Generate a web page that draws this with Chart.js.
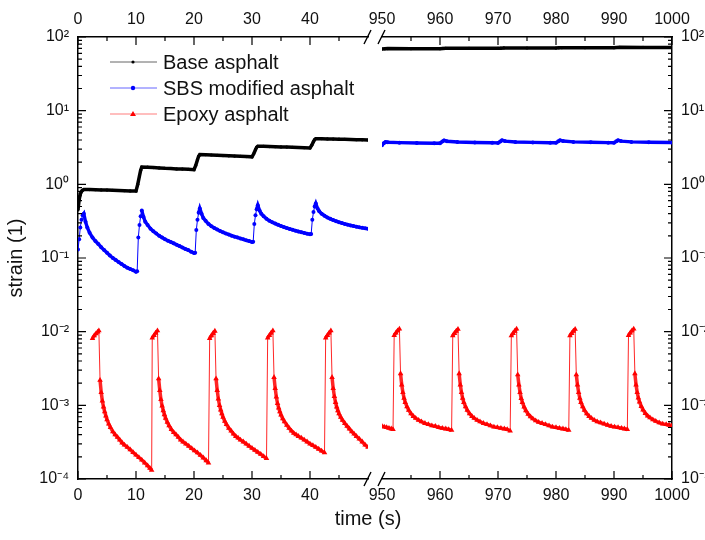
<!DOCTYPE html>
<html lang="en">
<head>
  <meta charset="UTF-8" />
  <title>Creep-recovery strain</title>
  <script src="https://cdn.jsdelivr.net/npm/chart.js"></script>
  <style>
    body {
      margin: 0;
      background: #fff;
    }
    .wrap {
      position: relative;
      width: 705px;
      height: 540px;
    }
    canvas {
      position: absolute;
      top: 0;
    }
    #leftChart { left: 0; }
    #rightChart { left: 350px; }
    #xTitle {
      position: absolute;
      left: 268px;
      top: 507px;
      width: 200px;
      text-align: center;
      font: 20px "Liberation Sans", Arial, sans-serif;
      color: #111;
    }
  </style>
</head>
<body>
  <div class="wrap">
    <canvas id="leftChart" width="375" height="540"></canvas>
    <canvas id="rightChart" width="355" height="540"></canvas>
    <div id="xTitle">time (s)</div>
  </div>

  <script>
    // tick labels
    const xTicksLeft = [0, 10, 20, 30, 40];
    const xTicksRight = [950, 960, 970, 980, 990, 1000];
    const yTickValues = [1e-4, 1e-3, 1e-2, 1e-1, 1, 10, 100];
    const yTickLabels = ['10\u207B\u2074', '10\u207B\u00B3', '10\u207B\u00B2', '10\u207B\u00B9', '10\u2070', '10\u00B9', '10\u00B2'];

    // Base asphalt, 0-50 s
    const baseTimeA = [0, 0.2, 0.4, 0.7, 1, 2, 3, 4, 5, 6, 7, 8, 9, 10, 10.3, 10.6, 10.8, 11, 12, 13, 14, 15, 16, 17, 18, 19, 20,
      20.3, 20.6, 20.8, 21, 22, 23, 24, 25, 26, 27, 28, 29, 30, 30.3, 30.6, 30.8, 31, 32, 33, 34, 35, 36, 37, 38, 39, 40,
      40.3, 40.6, 40.8, 41, 42, 43, 44, 45, 46, 47, 48, 49, 50];
    const baseStrainA = [0.45, 0.62, 0.74, 0.82, 0.85, 0.85, 0.845, 0.84, 0.835, 0.83, 0.825, 0.82, 0.815, 0.81, 1.0, 1.3, 1.55, 1.72,
      1.71, 1.69, 1.67, 1.65, 1.64, 1.62, 1.61, 1.6, 1.58, 1.8, 2.15, 2.4, 2.53, 2.52, 2.5, 2.48, 2.46, 2.44, 2.42, 2.4, 2.38, 2.36,
      2.6, 2.95, 3.18, 3.29, 3.28, 3.26, 3.24, 3.22, 3.2, 3.18, 3.16, 3.14, 3.12, 3.4, 3.8, 4.05, 4.17, 4.16, 4.14, 4.12, 4.1,
      4.08, 4.06, 4.04, 4.02, 4.0];
    // Base asphalt, 950-1000 s
    const baseTimeB = [950, 950.5, 951, 955, 960, 960.5, 961, 965, 970, 970.5, 971, 975, 980, 980.5, 981, 985, 990, 990.5, 991, 995, 1000];
    const baseStrainB = [68.5, 69.2, 69.6, 69.5, 69.4, 69.9, 70.3, 70.2, 70.1, 70.6, 71.0, 70.9, 70.8, 71.3, 71.7, 71.6, 71.5, 72.0, 72.4, 72.3, 72.2];

    // SBS modified asphalt, 0-50 s
    const sbsTimeA = [0, 0.2, 0.4, 0.6, 0.8, 1.0, 1.3, 1.6, 2.0, 2.5, 3, 3.5, 4, 4.5, 5, 5.5, 6, 6.5, 7, 7.5, 8, 8.5, 9, 9.5, 10,
      10.2, 10.4, 10.6, 10.8, 11.0, 11.3, 11.6, 12, 12.5, 13, 13.5, 14, 14.5, 15, 15.5, 16, 16.5, 17, 17.5, 18, 18.5, 19, 19.5, 20,
      20.2, 20.4, 20.6, 20.8, 21.0, 21.3, 21.6, 22, 22.5, 23, 23.5, 24, 24.5, 25, 25.5, 26, 26.5, 27, 27.5, 28, 28.5, 29, 29.5, 30,
      30.2, 30.4, 30.6, 30.8, 31.0, 31.3, 31.6, 32, 32.5, 33, 33.5, 34, 34.5, 35, 35.5, 36, 36.5, 37, 37.5, 38, 38.5, 39, 39.5, 40,
      40.2, 40.4, 40.6, 40.8, 41.0, 41.3, 41.6, 42, 42.5, 43, 43.5, 44, 44.5, 45, 45.5, 46, 46.5, 47, 47.5, 48, 48.5, 49, 49.5, 50];
    const sbsStrainA = [0.13, 0.18, 0.26, 0.33, 0.38, 0.40, 0.31, 0.26, 0.22, 0.19, 0.17, 0.155, 0.14, 0.128, 0.118, 0.108, 0.1, 0.094, 0.088, 0.083, 0.078, 0.074, 0.071, 0.068, 0.065,
      0.066, 0.19, 0.28, 0.37, 0.44, 0.36, 0.31, 0.28, 0.25, 0.23, 0.215, 0.2, 0.19, 0.18, 0.172, 0.165, 0.158, 0.151, 0.145, 0.139, 0.133, 0.128, 0.122, 0.117,
      0.118, 0.24, 0.33, 0.41, 0.47, 0.40, 0.35, 0.32, 0.29, 0.27, 0.255, 0.243, 0.232, 0.223, 0.215, 0.208, 0.201, 0.195, 0.19, 0.184, 0.179, 0.174, 0.17, 0.165,
      0.166, 0.29, 0.38, 0.46, 0.52, 0.44, 0.40, 0.37, 0.34, 0.32, 0.305, 0.293, 0.282, 0.272, 0.263, 0.255, 0.248, 0.241, 0.235, 0.229, 0.224, 0.219, 0.214, 0.21,
      0.211, 0.33, 0.42, 0.5, 0.55, 0.47, 0.43, 0.40, 0.375, 0.355, 0.34, 0.327, 0.316, 0.306, 0.298, 0.29, 0.283, 0.277, 0.271, 0.266, 0.261, 0.257, 0.253, 0.249];
    // SBS modified asphalt, 950-1000 s
    const sbsTimeB = [950, 950.3, 950.6, 951, 953, 956, 959, 960, 960.4, 960.7, 961.2, 963, 966, 969, 970, 970.4, 970.7, 971.2,
      973, 976, 979, 980, 980.4, 980.7, 981.2, 983, 986, 989, 990, 990.4, 990.7, 991.2, 993, 996, 1000];
    const sbsStrainB = [3.4, 3.6, 3.75, 3.72, 3.68, 3.64, 3.62, 3.62, 3.8, 3.95, 3.85, 3.75, 3.7, 3.66, 3.65, 3.82, 3.96, 3.86,
      3.76, 3.71, 3.67, 3.66, 3.83, 3.97, 3.87, 3.77, 3.72, 3.68, 3.67, 3.83, 3.96, 3.86, 3.77, 3.73, 3.7];

    // Epoxy asphalt, 0-50 s
    const epoxyTimeA = [2.5, 2.8, 3.1, 3.4, 3.6, 3.8, 4.0, 4.2, 4.4, 4.6, 4.8, 5.0, 5.3, 5.6, 6.0, 6.4, 6.8, 7.2, 7.6, 8.0, 8.5, 9.0, 9.5, 10.0, 10.5, 11.0, 11.5, 12.0, 12.4, 12.7,
      12.8, 13.1, 13.4, 13.7, 13.9, 14.1, 14.3, 14.5, 14.7, 14.9, 15.1, 15.4, 15.7, 16.1, 16.5, 16.9, 17.3, 17.7, 18.1, 18.6, 19.1, 19.6, 20.1, 20.6, 21.1, 21.6, 22.1, 22.5,
      22.7, 23.0, 23.3, 23.6, 23.8, 24.0, 24.2, 24.4, 24.6, 24.8, 25.0, 25.3, 25.6, 26.0, 26.4, 26.8, 27.2, 27.6, 28.0, 28.5, 29.0, 29.5, 30.0, 30.5, 31.0, 31.5, 32.0, 32.5,
      32.7, 33.0, 33.3, 33.6, 33.8, 34.0, 34.2, 34.4, 34.6, 34.8, 35.0, 35.3, 35.6, 36.0, 36.4, 36.8, 37.2, 37.6, 38.0, 38.5, 39.0, 39.5, 40.0, 40.5, 41.0, 41.5, 42.0, 42.5,
      42.7, 43.0, 43.3, 43.6, 43.8, 44.0, 44.2, 44.4, 44.6, 44.8, 45.0, 45.3, 45.6, 46.0, 46.4, 46.8, 47.2, 47.6, 48.0, 48.5, 49.0, 49.5, 50.0];
    const epoxyStrainA = [0.0081, 0.0088, 0.0094, 0.0099, 0.0103, 0.0022, 0.0015, 0.00115, 0.00095, 0.00082, 0.00072, 0.00064, 0.00056, 0.0005, 0.00044, 0.0004, 0.00037, 0.00034, 0.00031, 0.00029,
      0.00027, 0.00025, 0.00023, 0.000212, 0.000196, 0.000181, 0.000166, 0.000152, 0.00014, 0.000132,
      0.0082, 0.0089, 0.0096, 0.0103, 0.0023, 0.0016, 0.0012, 0.00098, 0.00085, 0.00075, 0.00067, 0.00059, 0.00053, 0.00047, 0.00043, 0.0004, 0.00037, 0.00034, 0.00032,
      0.0003, 0.00028, 0.00026, 0.000243, 0.000227, 0.000211, 0.000194, 0.000178, 0.000165,
      0.0081, 0.0088, 0.0095, 0.0102, 0.0023, 0.0016, 0.00122, 0.001, 0.00087, 0.00077, 0.00069, 0.00061, 0.00055, 0.00049, 0.00045, 0.00041, 0.00038, 0.00036, 0.00034,
      0.00032, 0.0003, 0.00028, 0.000262, 0.000246, 0.000231, 0.000217, 0.000203, 0.00019,
      0.0082, 0.0089, 0.0096, 0.0103, 0.0024, 0.0017, 0.0013, 0.00106, 0.00092, 0.00082, 0.00074, 0.00066, 0.0006, 0.00054, 0.00049, 0.00045, 0.00042, 0.0004, 0.00038,
      0.00036, 0.00034, 0.00032, 0.0003, 0.000285, 0.00027, 0.000255, 0.00024, 0.000228,
      0.0082, 0.0089, 0.0096, 0.0103, 0.0024, 0.0017, 0.00132, 0.0011, 0.00095, 0.00085, 0.00077, 0.00069, 0.00063, 0.00057, 0.00052, 0.00048, 0.00044, 0.00041, 0.00038,
      0.00035, 0.00032, 0.00029, 0.00027];
    // Epoxy asphalt, 950-1000 s
    const epoxyTimeB = [950, 950.4, 950.8, 951.2, 951.6, 951.9,
      952.1, 952.4, 952.7, 953.0, 953.2, 953.4, 953.6, 953.8, 954.0, 954.3, 954.6, 955.0, 955.4, 955.8, 956.3, 956.8, 957.4, 958.0, 958.6, 959.2, 959.8, 960.4, 961.0, 961.5, 962.0,
      962.2, 962.5, 962.8, 963.1, 963.3, 963.5, 963.7, 963.9, 964.1, 964.4, 964.7, 965.1, 965.5, 965.9, 966.4, 966.9, 967.5, 968.1, 968.7, 969.3, 969.9, 970.5, 971.1, 971.6, 972.1,
      972.3, 972.6, 972.9, 973.2, 973.4, 973.6, 973.8, 974.0, 974.2, 974.5, 974.8, 975.2, 975.6, 976.0, 976.5, 977.0, 977.6, 978.2, 978.8, 979.4, 980.0, 980.6, 981.2, 981.7, 982.2,
      982.4, 982.7, 983.0, 983.3, 983.5, 983.7, 983.9, 984.1, 984.3, 984.6, 984.9, 985.3, 985.7, 986.1, 986.6, 987.1, 987.7, 988.3, 988.9, 989.5, 990.1, 990.7, 991.3, 991.8, 992.3,
      992.5, 992.8, 993.1, 993.4, 993.6, 993.8, 994.0, 994.2, 994.4, 994.7, 995.0, 995.4, 995.8, 996.2, 996.7, 997.2, 997.8, 998.4, 999.0, 999.5, 1000];
    const epoxyStrainB = [0.00052, 0.00051, 0.0005, 0.00049, 0.00048, 0.00047,
      0.0089, 0.0096, 0.0103, 0.0109, 0.0027, 0.0019, 0.0015, 0.00125, 0.0011, 0.00096, 0.00086, 0.00077, 0.00071, 0.00067, 0.00063, 0.0006, 0.00057, 0.00055, 0.00053, 0.00052, 0.0005, 0.00049, 0.00048, 0.00047, 0.00046,
      0.0088, 0.0095, 0.0102, 0.0108, 0.0027, 0.0019, 0.0015, 0.00125, 0.0011, 0.00096, 0.00086, 0.00077, 0.00071, 0.00067, 0.00063, 0.0006, 0.00057, 0.00055, 0.00053, 0.00051, 0.0005, 0.00049, 0.00048, 0.00047, 0.00045,
      0.0088, 0.0095, 0.0102, 0.0109, 0.0026, 0.0019, 0.0015, 0.00124, 0.0011, 0.00095, 0.00085, 0.00076, 0.0007, 0.00066, 0.00062, 0.00059, 0.00057, 0.00055, 0.00053, 0.00051, 0.0005, 0.00049, 0.00048, 0.00047, 0.00046,
      0.0088, 0.0095, 0.0102, 0.0108, 0.0026, 0.0019, 0.0015, 0.00125, 0.0011, 0.00096, 0.00086, 0.00077, 0.00071, 0.00067, 0.00063, 0.0006, 0.00058, 0.00056, 0.00054, 0.00052, 0.00051, 0.0005, 0.00049, 0.00048, 0.00047,
      0.0089, 0.0096, 0.0103, 0.0109, 0.0027, 0.0019, 0.0015, 0.00126, 0.00111, 0.00097, 0.00087, 0.00078, 0.00072, 0.00068, 0.00064, 0.00061, 0.00058, 0.00056, 0.00055, 0.00054, 0.00053];

    Chart.defaults.font.family = '"Liberation Sans", Arial, sans-serif';
    Chart.defaults.color = '#111';

    const toPoints = (ts, vs) => ts.map((t, i) => ({ x: t, y: vs[i] }));

    // thin line where the curve jumps up or drops, thicker where it creeps / recovers
    const stepThin = (wide) => ({
      borderWidth: c => {
        const r = c.p1.parsed.y / c.p0.parsed.y;
        return (r > 1.15 || r < 0.5) ? 1 : wide;
      }
    });

    function makeDatasets(side) {
      return [
        {
          label: 'Base asphalt',
          data: side === 'A' ? toPoints(baseTimeA, baseStrainA) : toPoints(baseTimeB, baseStrainB),
          borderColor: '#000',
          backgroundColor: '#000',
          borderWidth: 3.5,
          pointRadius: 1.6,
          pointStyle: 'circle',
          pointBorderWidth: 0
        },
        {
          label: 'SBS modified asphalt',
          data: side === 'A' ? toPoints(sbsTimeA, sbsStrainA) : toPoints(sbsTimeB, sbsStrainB),
          borderColor: '#0000ff',
          backgroundColor: '#0000ff',
          borderWidth: 3.4,
          segment: stepThin(3.4),
          pointRadius: 2,
          pointStyle: 'circle',
          pointBorderWidth: 0
        },
        {
          label: 'Epoxy asphalt',
          data: side === 'A' ? toPoints(epoxyTimeA, epoxyStrainA) : toPoints(epoxyTimeB, epoxyStrainB),
          borderColor: 'rgba(255,0,0,0.85)',
          backgroundColor: '#ff0000',
          borderWidth: 1,
          segment: stepThin(3.5),
          pointRadius: 3.2,
          pointStyle: 'triangle',
          pointBorderWidth: 0
        }
      ];
    }

    // inward tick marks and axis-break slashes
    const frameMarks = {
      id: 'frameMarks',
      afterDraw(chart, args, opts) {
        const ctx = chart.ctx;
        const a = chart.chartArea;
        const xs = chart.scales.x;
        const ys = chart.scales.y;
        ctx.save();
        ctx.strokeStyle = '#000';
        ctx.lineWidth = 1.2;
        ctx.beginPath();
        for (let v = xs.min; v <= xs.max; v += 5) {
          if (v === opts.skipX) continue;
          const px = xs.getPixelForValue(v);
          const len = v % 10 === 0 ? 8 : 4;
          ctx.moveTo(px, a.bottom); ctx.lineTo(px, a.bottom - len);
          ctx.moveTo(px, a.top); ctx.lineTo(px, a.top + len);
        }
        const x0 = opts.yOnRight ? a.right : a.left;
        const dir = opts.yOnRight ? -1 : 1;
        for (let e = -4; e <= 2; e++) {
          for (let m = 1; m <= 9; m++) {
            const v = m * Math.pow(10, e);
            if (v > ys.max * 1.0001) break;
            const py = ys.getPixelForValue(v);
            const len = m === 1 ? 8 : 4;
            ctx.moveTo(x0, py); ctx.lineTo(x0 + dir * len, py);
          }
        }
        ctx.stroke();
        const bx = opts.yOnRight ? a.left : a.right;
        ctx.lineWidth = 1.4;
        ctx.beginPath();
        for (const by of [a.top, a.bottom]) {
          ctx.moveTo(bx - 4, by + 7);
          ctx.lineTo(bx + 3, by - 7);
        }
        ctx.stroke();
        ctx.restore();
      }
    };

    // legend drawn inside the plot area
    const insideLegend = {
      id: 'insideLegend',
      afterDraw(chart) {
        const ctx = chart.ctx;
        ctx.save();
        ctx.font = '20px "Liberation Sans", Arial, sans-serif';
        ctx.textBaseline = 'middle';
        chart.data.datasets.forEach((ds, i) => {
          const y = 62 + i * 26;
          ctx.strokeStyle = ds.borderColor;
          ctx.globalAlpha = 0.6;
          ctx.lineWidth = 1;
          ctx.beginPath();
          ctx.moveTo(110, y);
          ctx.lineTo(157, y);
          ctx.stroke();
          ctx.globalAlpha = 1;
          ctx.fillStyle = ds.backgroundColor;
          ctx.beginPath();
          if (ds.pointStyle === 'triangle') {
            ctx.moveTo(133, y - 3);
            ctx.lineTo(136, y + 2);
            ctx.lineTo(130, y + 2);
            ctx.closePath();
          } else {
            ctx.arc(133, y, i === 0 ? 1.6 : 2.2, 0, Math.PI * 2);
          }
          ctx.fill();
          ctx.fillStyle = '#111';
          ctx.fillText(ds.label, 163, y + 1);
        });
        ctx.restore();
      }
    };

    const tickFont = { size: 16 };

    function xScale(position, min, max, ticks, height, padding) {
      return {
        type: 'linear',
        position: position,
        min: min,
        max: max,
        grid: { display: false, drawTicks: false },
        border: { display: true, color: '#000', width: 1.5 },
        ticks: {
          font: tickFont,
          padding: padding,
          autoSkip: false,
          maxRotation: 0,
          callback: v => String(v)
        },
        afterBuildTicks: s => { s.ticks = ticks.map(v => ({ value: v })); },
        afterFit: s => { s.height = height; }
      };
    }

    function yScale(position, width, showTitle) {
      return {
        type: 'logarithmic',
        position: position,
        min: 1e-4,
        max: 100,
        grid: { display: false, drawTicks: false },
        border: { display: true, color: '#000', width: 1.5 },
        ticks: {
          font: tickFont,
          padding: 9,
          autoSkip: false,
          callback: (v, i) => yTickLabels[i]
        },
        title: {
          display: showTitle,
          text: 'strain (1)',
          font: { size: 20 },
          padding: { top: 4, bottom: 4 }
        },
        afterBuildTicks: s => { s.ticks = yTickValues.map(v => ({ value: v })); },
        afterFit: s => { s.width = width; }
      };
    }

    const common = {
      responsive: false,
      animation: false,
      devicePixelRatio: 1,
      plugins: {
        legend: { display: false },
        tooltip: { enabled: false }
      }
    };

    new Chart(document.getElementById('leftChart'), {
      type: 'line',
      data: { datasets: makeDatasets('A') },
      options: {
        ...common,
        layout: { padding: { left: 0, right: 7, top: 0, bottom: 0 } },
        plugins: { ...common.plugins, frameMarks: { skipX: 50, yOnRight: false } },
        scales: {
          x: xScale('bottom', 0, 50, xTicksLeft, 61, 7),
          xTop: xScale('top', 0, 50, xTicksLeft, 37, 8),
          y: yScale('left', 78, true)
        }
      },
      plugins: [frameMarks, insideLegend]
    });

    new Chart(document.getElementById('rightChart'), {
      type: 'line',
      data: { datasets: makeDatasets('B') },
      options: {
        ...common,
        layout: { padding: { left: 32, right: 0, top: 0, bottom: 0 } },
        plugins: { ...common.plugins, frameMarks: { skipX: 950, yOnRight: true } },
        scales: {
          x: xScale('bottom', 950, 1000, xTicksRight, 61, 7),
          xTop: xScale('top', 950, 1000, xTicksRight, 37, 8),
          y: yScale('right', 33, false)
        }
      },
      plugins: [frameMarks]
    });
  </script>
</body>
</html>
